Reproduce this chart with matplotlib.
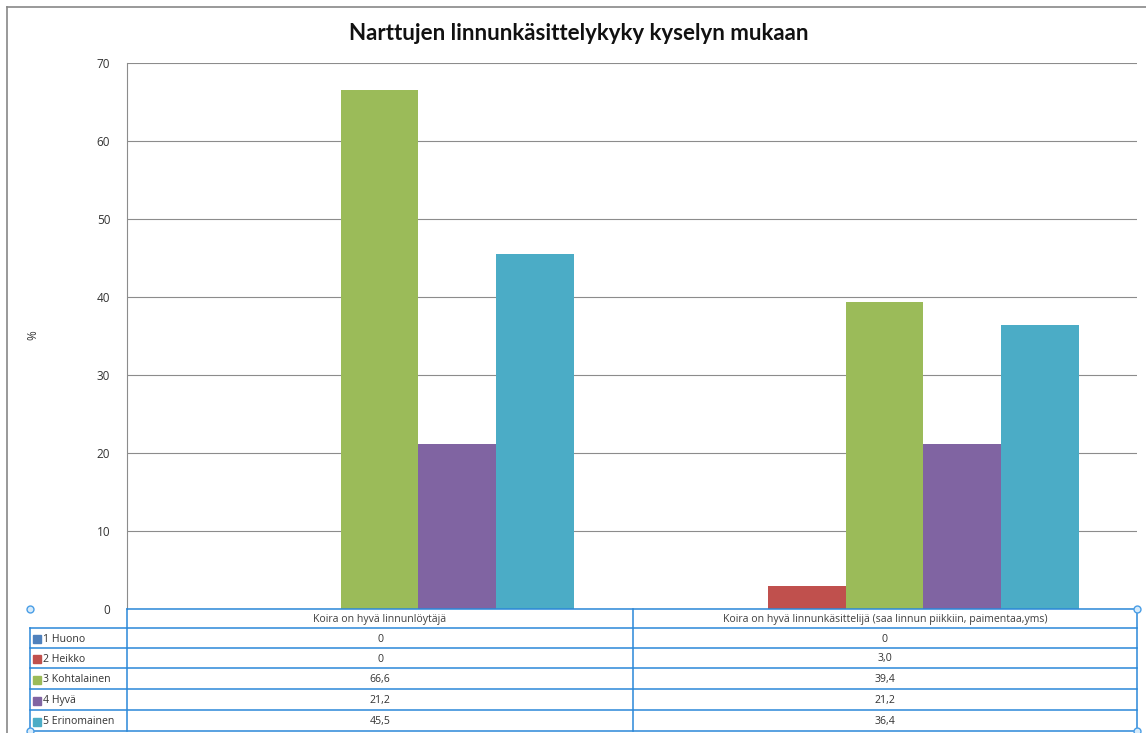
import numpy as np
import matplotlib.pyplot as plt
from matplotlib.lines import Line2D
from matplotlib.patches import Rectangle

# data
categories = ['Koira on hyvä linnunlöytäjä',
              'Koira on hyvä linnunkäsittelijä (saa linnun piikkiin, paimentaa,yms)']
series = ['1 Huono', '2 Heikko', '3 Kohtalainen', '4 Hyvä', '5 Erinomainen']
values = [[0, 0], [0, 3.0], [66.6, 39.4], [21.2, 21.2], [45.5, 36.4]]
cell_text = [['0', '0'], ['0', '3,0'], ['66,6', '39,4'], ['21,2', '21,2'], ['45,5', '36,4']]
colors = ['#4F81BD', '#C0504D', '#9BBB59', '#8064A2', '#4BACC6']
yticks = [0, 10, 20, 30, 40, 50, 60, 70]

W, H = 1146, 733
plt.rcParams['font.family'] = ['Open Sans', 'DejaVu Sans']

def fx(x):
    return x / W

def fy(y):
    return 1 - y / H

fig = plt.figure(figsize=(W / 100, H / 100), dpi=100)
ax = fig.add_axes([fx(127), fy(609), fx(1137) - fx(127), fy(63) - fy(609)])

w = 78 / 506
x = np.arange(len(categories))
for i, (s, c) in enumerate(zip(series, colors)):
    ax.bar(x + (i - 2) * w, values[i], width=w, color=c, zorder=3)

ax.set_xlim(-0.5, 1.5)
ax.set_ylim(0, 70)
ax.set_yticks(yticks)
ax.set_yticklabels([str(t) for t in yticks], fontsize=8.5, color='#333333')
ax.tick_params(axis='y', length=0, pad=12)
ax.set_xticks([])
ax.grid(axis='y', color='#8c8c8c', lw=0.8, zorder=0)
for sp in ['top', 'right', 'bottom']:
    ax.spines[sp].set_visible(False)
ax.spines['left'].set_color('#8c8c8c')

fig.text(fx(33), fy(335), '%', rotation=90, fontsize=8.5, color='#333333',
         ha='center', va='center')
fig.text(fx(579), fy(33), 'Narttujen linnunkäsittelykyky kyselyn mukaan',
         family=['Lato', 'DejaVu Sans'], fontweight='bold', fontsize=16,
         ha='center', va='center', color='#111111')

# outer frame
fig.add_artist(Line2D([fx(7), 1], [fy(7), fy(7)], color='#888888', lw=1.2))
fig.add_artist(Line2D([fx(7), fx(7)], [fy(7), 0], color='#888888', lw=1.2))

# data table under the plot
tc = '#2B88D8'
rows_y = [609, 628, 648, 668, 689, 710, 731]
cols_x = [30, 127, 633, 1137]
fig.add_artist(Line2D([fx(127), fx(1137)], [fy(609), fy(609)], color=tc, lw=1.1))
for y in rows_y[1:]:
    fig.add_artist(Line2D([fx(30), fx(1137)], [fy(y), fy(y)], color=tc, lw=1.1))
fig.add_artist(Line2D([fx(30), fx(30)], [fy(628), fy(731)], color=tc, lw=1.1))
for xx in cols_x[1:]:
    fig.add_artist(Line2D([fx(xx), fx(xx)], [fy(609), fy(731)], color=tc, lw=1.1))

fs = 7.6
for j, cat in enumerate(categories):
    cx = (cols_x[j + 1] + cols_x[j + 2]) / 2
    fig.text(fx(cx), fy(619.5), cat, fontsize=fs, color='#404040', ha='center', va='center')

for i, s in enumerate(series):
    cy = (rows_y[i + 1] + rows_y[i + 2]) / 2 + 1
    fig.add_artist(Rectangle((fx(33), fy(cy + 4)), fx(8), 8 / H, color=colors[i],
                             transform=fig.transFigure))
    fig.text(fx(43), fy(cy), s, fontsize=fs, color='#333333', ha='left', va='center')
    for j in range(len(categories)):
        cx = (cols_x[j + 1] + cols_x[j + 2]) / 2
        fig.text(fx(cx), fy(cy), cell_text[i][j], fontsize=fs, color='#333333',
                 ha='center', va='center')

# selection handles
for hx, hy in [(30, 609), (1137, 609), (30, 731), (1137, 731)]:
    fig.add_artist(Line2D([fx(hx)], [fy(hy)], marker='o', ms=5, mfc='#d6ebfb',
                          mec='#4a9ee6', mew=1))

fig.savefig('out.png', dpi=100)
